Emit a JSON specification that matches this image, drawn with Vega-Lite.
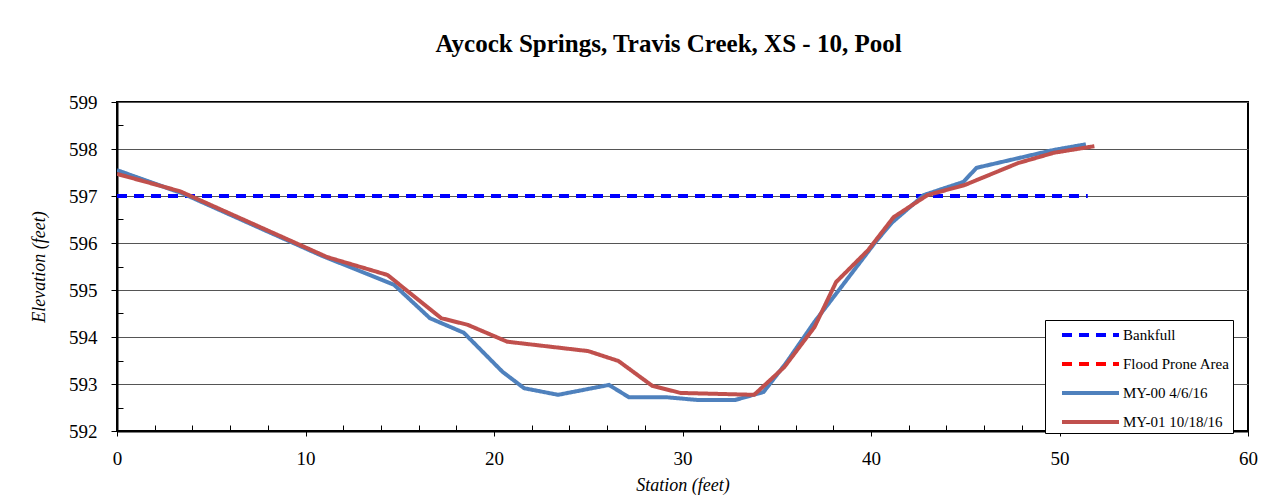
{
  "$schema": "https://vega.github.io/schema/vega-lite/v6.json",
  "width": 1131,
  "height": 329,
  "autosize": {"type": "none"},
  "padding": {"left": 117, "top": 102, "right": 26, "bottom": 69},
  "background": "white",
  "config": {
    "font": "Liberation Serif, Times New Roman, DejaVu Serif, serif",
    "view": {"stroke": "#000", "strokeWidth": 2},
    "axis": {"labelFont": "Liberation Serif, Times New Roman, DejaVu Serif, serif", "titleFont": "Liberation Serif, Times New Roman, DejaVu Serif, serif", "labelFontSize": 19, "titleFontSize": 18, "labelColor": "#000", "titleColor": "#000", "titleFontStyle": "italic", "titleFontWeight": "normal", "domainColor": "#000", "tickColor": "#000"},
    "legend": {"labelFont": "Liberation Serif, Times New Roman, DejaVu Serif, serif", "labelFontSize": 15, "labelColor": "#000"}
  },
  "title": {"text": "Aycock Springs, Travis Creek, XS - 10, Pool", "font": "Liberation Serif, Times New Roman, DejaVu Serif, serif", "fontSize": 25, "fontWeight": "bold", "color": "#000", "anchor": "middle", "frame": "group", "dx": -14, "offset": 36},
  "data": {"values": [
    {"series": "Bankfull", "station": 0, "elev": 597.0},
    {"series": "Bankfull", "station": 51.5, "elev": 597.0},
    {"series": "MY-00 4/6/16", "station": 0, "elev": 597.55},
    {"series": "MY-00 4/6/16", "station": 3.5, "elev": 597.05},
    {"series": "MY-00 4/6/16", "station": 10.8, "elev": 595.74},
    {"series": "MY-00 4/6/16", "station": 14.7, "elev": 595.11},
    {"series": "MY-00 4/6/16", "station": 16.6, "elev": 594.4},
    {"series": "MY-00 4/6/16", "station": 18.4, "elev": 594.09},
    {"series": "MY-00 4/6/16", "station": 20.45, "elev": 593.26},
    {"series": "MY-00 4/6/16", "station": 21.6, "elev": 592.91},
    {"series": "MY-00 4/6/16", "station": 23.4, "elev": 592.77},
    {"series": "MY-00 4/6/16", "station": 26.1, "elev": 592.98},
    {"series": "MY-00 4/6/16", "station": 27.15, "elev": 592.72},
    {"series": "MY-00 4/6/16", "station": 29.1, "elev": 592.72},
    {"series": "MY-00 4/6/16", "station": 30.8, "elev": 592.66},
    {"series": "MY-00 4/6/16", "station": 32.8, "elev": 592.66},
    {"series": "MY-00 4/6/16", "station": 34.3, "elev": 592.83},
    {"series": "MY-00 4/6/16", "station": 35.5, "elev": 593.45},
    {"series": "MY-00 4/6/16", "station": 37.0, "elev": 594.32},
    {"series": "MY-00 4/6/16", "station": 38.3, "elev": 595.0},
    {"series": "MY-00 4/6/16", "station": 40.2, "elev": 596.0},
    {"series": "MY-00 4/6/16", "station": 41.1, "elev": 596.43},
    {"series": "MY-00 4/6/16", "station": 42.8, "elev": 597.02},
    {"series": "MY-00 4/6/16", "station": 44.9, "elev": 597.3},
    {"series": "MY-00 4/6/16", "station": 45.6, "elev": 597.6},
    {"series": "MY-00 4/6/16", "station": 49.7, "elev": 597.98},
    {"series": "MY-00 4/6/16", "station": 51.4, "elev": 598.1},
    {"series": "MY-01 10/18/16", "station": 0, "elev": 597.47},
    {"series": "MY-01 10/18/16", "station": 3.35, "elev": 597.1},
    {"series": "MY-01 10/18/16", "station": 9.7, "elev": 595.96},
    {"series": "MY-01 10/18/16", "station": 11.15, "elev": 595.7},
    {"series": "MY-01 10/18/16", "station": 14.35, "elev": 595.32},
    {"series": "MY-01 10/18/16", "station": 17.2, "elev": 594.4},
    {"series": "MY-01 10/18/16", "station": 18.6, "elev": 594.26},
    {"series": "MY-01 10/18/16", "station": 20.7, "elev": 593.9},
    {"series": "MY-01 10/18/16", "station": 25.0, "elev": 593.7},
    {"series": "MY-01 10/18/16", "station": 26.6, "elev": 593.49},
    {"series": "MY-01 10/18/16", "station": 28.4, "elev": 592.96},
    {"series": "MY-01 10/18/16", "station": 29.9, "elev": 592.81},
    {"series": "MY-01 10/18/16", "station": 33.8, "elev": 592.77},
    {"series": "MY-01 10/18/16", "station": 35.4, "elev": 593.36},
    {"series": "MY-01 10/18/16", "station": 37.0, "elev": 594.21},
    {"series": "MY-01 10/18/16", "station": 38.15, "elev": 595.17},
    {"series": "MY-01 10/18/16", "station": 39.85, "elev": 595.85},
    {"series": "MY-01 10/18/16", "station": 41.2, "elev": 596.55},
    {"series": "MY-01 10/18/16", "station": 43.0, "elev": 597.02},
    {"series": "MY-01 10/18/16", "station": 44.95, "elev": 597.23},
    {"series": "MY-01 10/18/16", "station": 47.8, "elev": 597.7},
    {"series": "MY-01 10/18/16", "station": 49.7, "elev": 597.92},
    {"series": "MY-01 10/18/16", "station": 51.85, "elev": 598.06}
  ]},
  "resolve": {"axis": {"x": "independent", "y": "independent"}},
  "layer": [
    {
      "transform": [{"filter": "datum.series === 'Bankfull'"}],
      "mark": {"type": "line", "strokeWidth": 4, "strokeCap": "butt", "clip": true},
      "encoding": {
        "x": {"field": "station", "type": "quantitative", "scale": {"domain": [0, 60], "nice": false}, "title": null,
          "axis": {"orient": "bottom", "values": [2, 4, 6, 8, 12, 14, 16, 18, 22, 24, 26, 28, 32, 34, 36, 38, 42, 44, 46, 48, 52, 54, 56, 58], "labels": false, "domain": false, "grid": false, "tickSize": -6, "tickWidth": 1}},
        "y": {"field": "elev", "type": "quantitative", "scale": {"domain": [592, 599], "nice": false, "zero": false}, "title": null,
          "axis": {"orient": "left", "values": [592.5, 593.5, 594.5, 595.5, 596.5, 597.5, 598.5], "labels": false, "domain": false, "grid": false, "tickSize": -6, "tickWidth": 1}},
        "color": {"field": "series", "type": "nominal", "title": null,
          "scale": {"domain": ["Bankfull", "Flood Prone Area", "MY-00 4/6/16", "MY-01 10/18/16"], "range": ["#0000FF", "#FF0000", "#4F81BD", "#C0504D"]},
          "legend": {"orient": "none", "legendX": 928, "legendY": 218, "fillColor": "white", "strokeColor": "#000", "padding": 3, "symbolType": "M0.2,0H5.9", "symbolSize": 400, "symbolStrokeWidth": 4, "rowPadding": 9, "labelOffset": 51, "labelFontSize": 15}},
        "strokeDash": {"field": "series", "type": "nominal", "title": null,
          "scale": {"domain": ["Bankfull", "Flood Prone Area", "MY-00 4/6/16", "MY-01 10/18/16"], "range": [[10, 7], [10, 7], [1, 0], [1, 0]]},
          "legend": {"orient": "none", "legendX": 928, "legendY": 218, "fillColor": "white", "strokeColor": "#000", "padding": 3, "symbolType": "M0.2,0H5.9", "symbolSize": 400, "symbolStrokeWidth": 4, "rowPadding": 9, "labelOffset": 51, "labelFontSize": 15}}
      }
    },
    {
      "transform": [{"filter": "datum.series !== 'Bankfull'"}],
      "mark": {"type": "line", "strokeWidth": 4, "strokeCap": "butt", "clip": true},
      "encoding": {
        "x": {"field": "station", "type": "quantitative", "scale": {"domain": [0, 60], "nice": false}, "title": "Station (feet)",
          "axis": {"orient": "bottom", "values": [0, 10, 20, 30, 40, 50, 60], "labelFlush": false, "grid": false, "domainWidth": 2, "tickSize": 5, "tickWidth": 1, "labelPadding": 13, "titlePadding": 8}},
        "y": {"field": "elev", "type": "quantitative", "scale": {"domain": [592, 599], "nice": false, "zero": false}, "title": "Elevation (feet)",
          "axis": {"orient": "left", "values": [592, 593, 594, 595, 596, 597, 598, 599], "grid": true, "gridColor": "#555", "gridWidth": 1, "domainWidth": 2, "tickSize": 6, "labelPadding": 14, "titlePadding": 20}},
        "color": {"field": "series", "type": "nominal", "title": null},
        "strokeDash": {"field": "series", "type": "nominal", "title": null}
      }
    }
  ]
}
